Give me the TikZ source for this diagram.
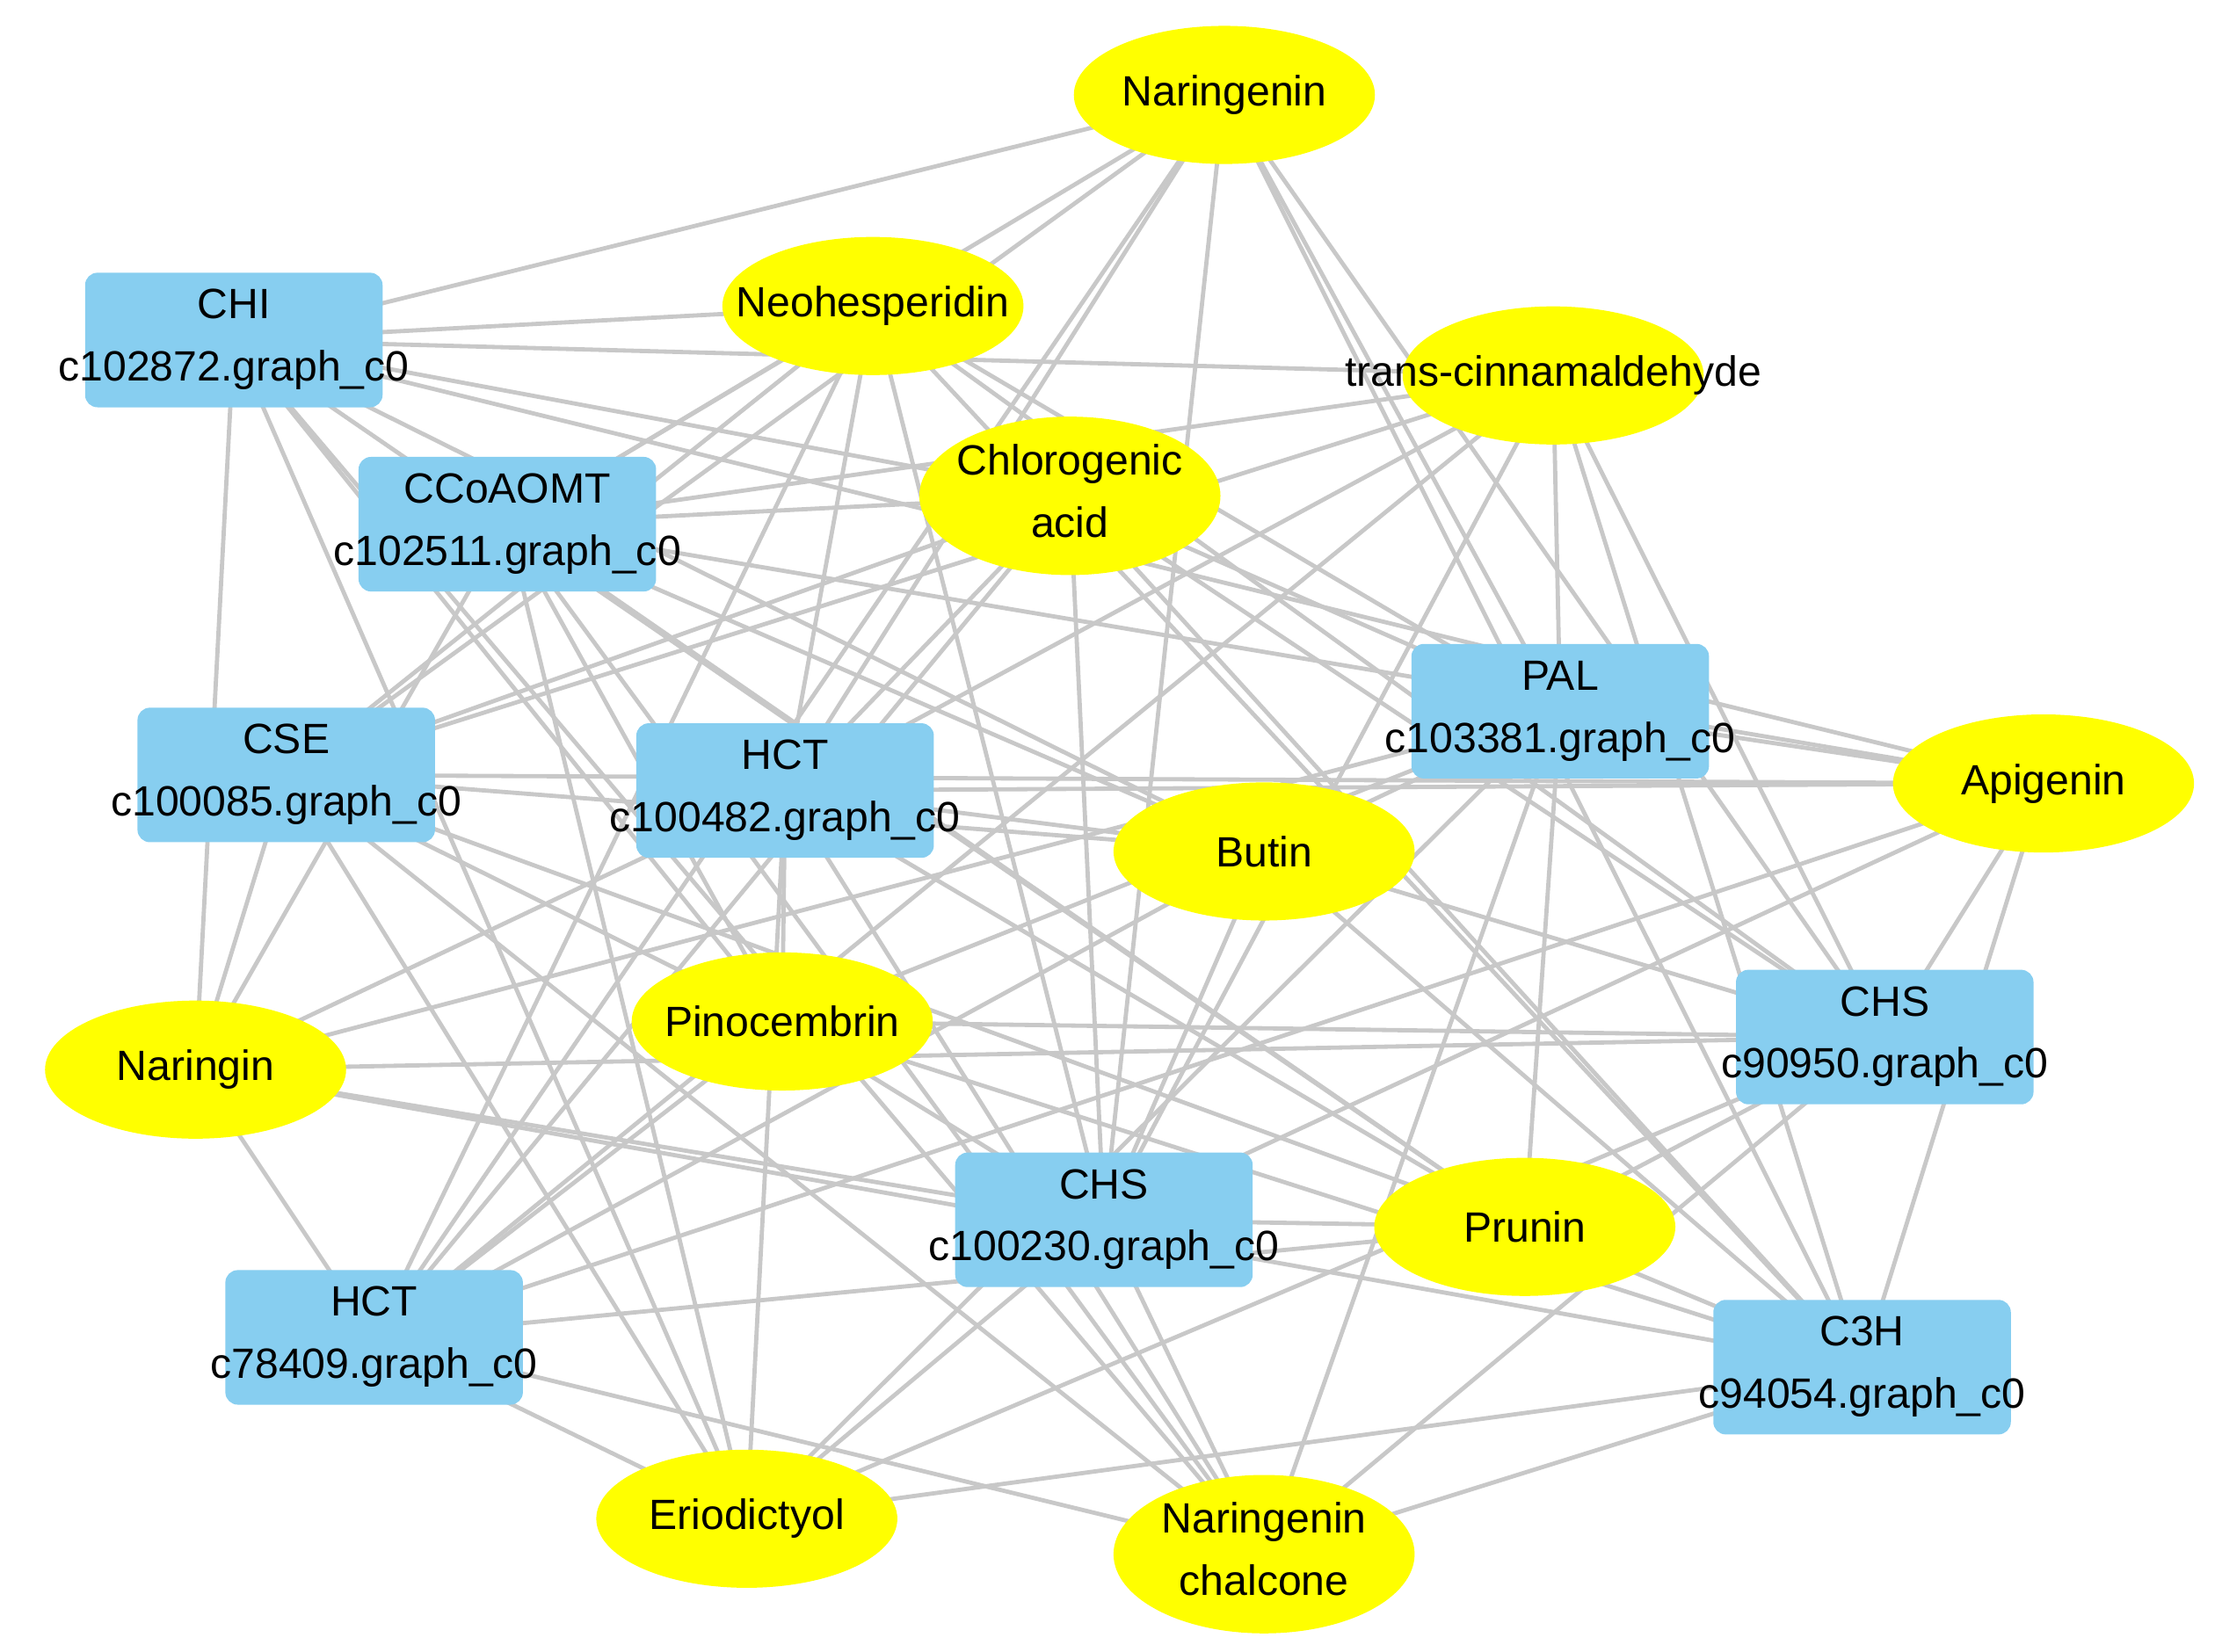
\documentclass[tikz,border=0pt]{standalone}
\usepackage{fontspec}
\setmainfont{Liberation Sans}
\usetikzlibrary{shapes.geometric}
\pgfdeclarelayer{background}
\pgfsetlayers{background,main}
\definecolor{gbox}{RGB}{135,206,240}
\definecolor{ylw}{RGB}{255,255,0}
\definecolor{edge}{RGB}{200,200,200}
\newcommand\twol[2]{\makebox[0pt]{\begin{tabular}{@{}c@{}}#1\\[5pt]#2\end{tabular}}}
\newcommand\onel[1]{\makebox[0pt]{#1}}
\begin{document}
\begin{tikzpicture}[x=0.02cm,y=-0.02cm,
  gene/.style={rectangle,rounded corners=5pt,fill=gbox,minimum width=4.2cm,minimum height=1.9cm,inner sep=0pt,font=\fontsize{17}{20}\selectfont},
  met/.style={ellipse,fill=ylw,minimum width=4.25cm,minimum height=1.95cm,inner sep=0pt,font=\fontsize{17}{20}\selectfont},
  link/.style={draw=edge,line width=1.7pt}]
\useasboundingbox (0,0) rectangle (1568,1166);
\node[gene] (g1) at (165,240) {\twol{CHI}{c102872.graph\_c0}};
\node[gene] (g2) at (358,370) {\twol{CCoAOMT}{c102511.graph\_c0}};
\node[gene] (g3) at (202,547) {\twol{CSE}{c100085.graph\_c0}};
\node[gene] (g4) at (554,558) {\twol{HCT}{c100482.graph\_c0}};
\node[gene] (g5) at (1101,502) {\twol{PAL}{c103381.graph\_c0}};
\node[gene] (g6) at (1330,732) {\twol{CHS}{c90950.graph\_c0}};
\node[gene] (g7) at (779,861) {\twol{CHS}{c100230.graph\_c0}};
\node[gene] (g8) at (264,944) {\twol{HCT}{c78409.graph\_c0}};
\node[gene] (g9) at (1314,965) {\twol{C3H}{c94054.graph\_c0}};
\node[met] (m1) at (864,67) {\onel{Naringenin}};
\node[met] (m2) at (616,216) {\onel{Neohesperidin}};
\node[met] (m3) at (1096,265) {\onel{trans-cinnamaldehyde}};
\node[met] (m4) at (755,350) {\twol{Chlorogenic}{acid}};
\node[met] (m5) at (1442,553) {\onel{Apigenin}};
\node[met] (m6) at (892,601) {\onel{Butin}};
\node[met] (m7) at (138,755) {\onel{Naringin}};
\node[met] (m8) at (552,721) {\onel{Pinocembrin}};
\node[met] (m9) at (1076,866) {\onel{Prunin}};
\node[met] (m10) at (527,1072) {\onel{Eriodictyol}};
\node[met] (m11) at (892,1097) {\twol{Naringenin}{chalcone}};
\begin{pgfonlayer}{background}
\foreach \g in {1,...,9}{\foreach \m in {1,...,11}{\draw[link] (g\g.center) -- (m\m.center);}}
\end{pgfonlayer}
\end{tikzpicture}
\end{document}
